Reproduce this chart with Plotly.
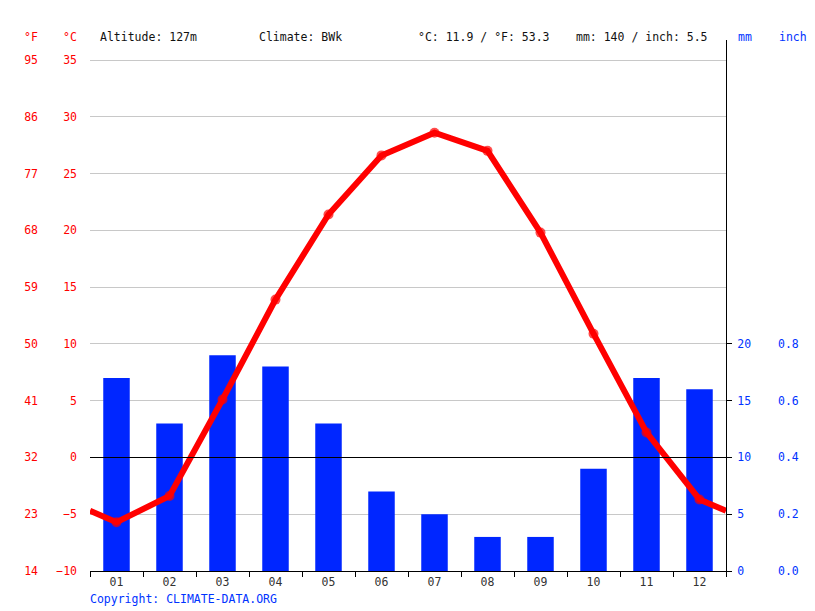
import plotly.graph_objects as go

months = ["01", "02", "03", "04", "05", "06", "07", "08", "09", "10", "11", "12"]
temp_c = [-5.7, -3.4, 5.1, 13.9, 21.4, 26.6, 28.6, 27.0, 19.8, 10.9, 2.2, -3.7]
precip_mm = [17, 13, 19, 18, 13, 7, 5, 3, 3, 9, 17, 16]

c_ticks = [-10, -5, 0, 5, 10, 15, 20, 25, 30, 35]
f_ticks = [14, 23, 32, 41, 50, 59, 68, 77, 86, 95]
mm_ticks = [0, 5, 10, 15, 20]
inch_ticks = [0.0, 0.2, 0.4, 0.6, 0.8]

W, H = 815, 611
L_PX, R_PX, T_PX, B_PX = 90, 726, 40, 571
px_per_c = (571 - 60) / 45.0
c_top = -10 + (B_PX - T_PX) / px_per_c
c_range = [-10, c_top]
mm_range = [0, c_top + 10]
f_range = [14, 14 + (c_top + 10) * 1.8]
in_range = [0, (c_top + 10) / 25.0]

RED = "#ff0000"
BLUE = "#0033ff"
BAR = "#0026ff"
FONT = "DejaVu Sans Mono"
FS = 11.5

x_idx = list(range(1, 13))
edge = (temp_c[0] + temp_c[-1]) / 2
line_x = [0.5] + x_idx + [12.5]
line_y = [edge] + temp_c + [edge]
msize = [0] + [10] * 12 + [0]

fig = go.Figure()
fig.add_trace(go.Bar(x=x_idx, y=precip_mm, width=0.5, marker=dict(color=BAR, line=dict(width=0)),
                     yaxis="y", hoverinfo="skip"))
# invisible helpers so the unit axes get drawn
fig.add_trace(go.Scatter(x=x_idx, y=temp_c, mode="markers",
                         marker=dict(opacity=0), yaxis="y2", hoverinfo="skip"))
fig.add_trace(go.Scatter(x=x_idx, y=[t * 1.8 + 32 for t in temp_c], mode="markers",
                         marker=dict(opacity=0), yaxis="y3", hoverinfo="skip"))
fig.add_trace(go.Scatter(x=x_idx, y=[p / 25.0 for p in precip_mm], mode="markers",
                         marker=dict(opacity=0), yaxis="y4", hoverinfo="skip"))
# temperature line on top of everything
fig.add_trace(go.Scatter(x=line_x, y=line_y, mode="lines+markers",
                         line=dict(color=RED, width=6),
                         marker=dict(color=RED, size=msize, line=dict(width=0)),
                         yaxis="y5", hoverinfo="skip"))

fig.update_layout(
    width=W, height=H,
    margin=dict(l=0, r=0, t=T_PX, b=H - B_PX, pad=0),
    paper_bgcolor="white", plot_bgcolor="white",
    showlegend=False,
    font=dict(family=FONT, size=FS),
    xaxis=dict(domain=[L_PX / W, R_PX / W], range=[0.5, 12.5], tickvals=x_idx, ticktext=months,
               ticks="", showgrid=False, zeroline=False, showline=True, linecolor="black",
               linewidth=1, tickfont=dict(color="#333333", size=FS, family=FONT),
               minor=dict(tickvals=[i + 0.5 for i in range(0, 13)], ticks="outside",
                          ticklen=5, tickcolor="black", tickwidth=1, showgrid=False),
               fixedrange=True),
    yaxis=dict(range=mm_range, tickvals=mm_ticks, side="right", anchor="x",
               showgrid=False, zeroline=False, showline=True, linecolor="black", linewidth=1,
               ticks="outside", ticklen=5, tickcolor="black",
               tickfont=dict(color=BLUE, size=FS, family=FONT), ticklabelstandoff=3),
    yaxis2=dict(range=c_range, tickvals=c_ticks, overlaying="y", side="left", anchor="x",
                showgrid=True, gridcolor="#c8c8c8", gridwidth=1,
                zeroline=True, zerolinecolor="black", zerolinewidth=1.2, showline=False, ticks="",
                tickfont=dict(color=RED, size=FS, family=FONT), ticklabelstandoff=12),
    yaxis3=dict(range=f_range, tickvals=f_ticks, overlaying="y", side="left", anchor="free",
                position=40 / W, showgrid=False, zeroline=False, showline=False, ticks="",
                tickfont=dict(color=RED, size=FS, family=FONT), ticklabelstandoff=2),
    yaxis4=dict(range=in_range, tickvals=inch_ticks, ticktext=["%.1f" % v for v in inch_ticks],
                overlaying="y", side="right", anchor="free", position=775 / W,
                showgrid=False, zeroline=False, showline=False, ticks="",
                tickfont=dict(color=BLUE, size=FS, family=FONT), ticklabelstandoff=2),
    yaxis5=dict(range=c_range, overlaying="y", anchor="x", visible=False),
)
try:
    fig.update_layout(yaxis2=dict(zerolinelayer="above traces"))
except Exception:
    pass

def ypix(py):
    return (B_PX - py) / (B_PX - T_PX)

header = [
    (22, "°F", RED),
    (61, "°C", RED),
    (98, "Altitude: 127m", "#111111"),
    (257, "Climate: BWk", "#111111"),
    (416, "°C: 11.9 / °F: 53.3", "#111111"),
    (574, "mm: 140 / inch: 5.5", "#111111"),
    (736, "mm", BLUE),
    (777, "inch", BLUE),
]
for x, txt, col in header:
    fig.add_annotation(x=x / W, y=ypix(36.5), xref="paper", yref="paper", text=txt, showarrow=False,
                       xanchor="left", yanchor="middle", font=dict(color=col, size=FS, family=FONT))

fig.add_annotation(x=88 / W, y=ypix(599), xref="paper", yref="paper", text="Copyright: CLIMATE-DATA.ORG",
                   showarrow=False, xanchor="left", yanchor="middle",
                   font=dict(color=BLUE, size=FS, family=FONT))

fig.write_html("out.html")
